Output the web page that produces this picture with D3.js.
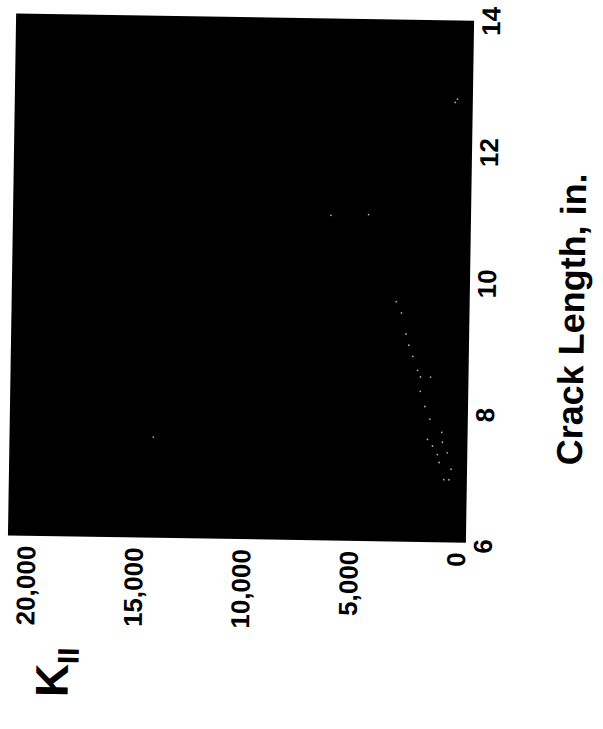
<!DOCTYPE html>
<html>
<head>
<meta charset="utf-8">
<script src="https://cdn.jsdelivr.net/npm/d3@7"></script>
<style>
  body { margin: 0; background: #fff; }
  svg { display: block; font-family: "Liberation Sans", Arial, Helvetica, sans-serif; font-weight: bold; }
</style>
</head>
<body>
<svg id="chart" width="603" height="729"></svg>
<script>
// crack length (in.) and K_II values
const crackLength = [9.70, 9.53, 9.21, 9.04, 8.87, 8.66, 8.56, 8.56, 8.34, 8.11, 7.92, 7.61,
  7.51, 7.38, 7.72, 7.57, 7.41, 7.26, 7.00, 7.00, 7.16, 11.0, 11.02, 7.58, 12.8, 12.75];
const kII = [2950, 2700, 2470, 2330, 2140, 1910, 1770, 1300, 1770, 1540, 1300, 1400,
  1160, 930, 740, 700, 470, 840, 610, 370, 280, 6050, 4300, 14150, 250, 350];

const crackTicks = [6, 8, 10, 12, 14];
const kTicks = [0, 5000, 10000, 15000, 20000];

const svg = d3.select('#chart');

// the scanned page sits slightly turned, so the whole chart gets a small rotation
const g = svg.append('g').attr('transform', 'rotate(0.9,300,280)');

// plot is drawn sideways: crack length runs bottom -> top on the right,
// K_II runs right -> left along the bottom
const plot = { left: 12, right: 470, top: 18, bottom: 540 };

var y = d3.scaleLinear().domain([6, 14]).range([543, 18]);
var x = d3.scaleLinear().domain([0, 20000]).range([460, 30]);

// black plot field
g.append('rect')
  .attr('x', plot.left)
  .attr('y', plot.top)
  .attr('width', plot.right - plot.left)
  .attr('height', plot.bottom - plot.top)
  .attr('fill', '#000');

// data points
g.append('g')
  .selectAll('circle')
  .data(crackLength.map((c, i) => ({ c: c, k: kII[i] })))
  .enter()
  .append('circle')
  .attr('cx', d => x(d.k))
  .attr('cy', d => y(d.c))
  .attr('r', 0.9)
  .attr('fill', '#aaa');

// crack length axis (right side)
var ay = g.append('g')
  .attr('transform', 'translate(' + plot.right + ',0)')
  .call(d3.axisRight(y).tickValues(crackTicks).tickSize(0));
ay.select('.domain').remove();
ay.selectAll('text')
  .attr('transform', 'rotate(-90)')
  .attr('x', 0)
  .attr('y', 17)
  .attr('dy', '0.35em')
  .attr('text-anchor', 'middle')
  .attr('fill', '#000')
  .style('font-size', '26px')
  .style('font-weight', 'bold');

// K_II axis (bottom)
var ax = g.append('g')
  .attr('transform', 'translate(0,' + plot.bottom + ')')
  .call(d3.axisBottom(x).tickValues(kTicks).tickSize(0).tickFormat(d3.format(',')));
ax.select('.domain').remove();
ax.selectAll('text')
  .attr('transform', 'rotate(-90)')
  .attr('x', -10)
  .attr('y', 0)
  .attr('dy', '0.35em')
  .attr('text-anchor', 'end')
  .attr('fill', '#000')
  .style('font-size', '26px')
  .style('font-weight', 'bold');

// axis titles
g.append('text')
  .attr('transform', 'translate(572,315) rotate(-90)')
  .attr('text-anchor', 'middle')
  .attr('dy', '0.35em')
  .style('font-size', '36px')
  .text('Crack Length, in.');

var kl = g.append('text')
  .attr('transform', 'translate(58,676) rotate(-90)')
  .attr('text-anchor', 'middle')
  .attr('dy', '0.35em')
  .style('font-size', '46px');
kl.append('tspan').text('K');
kl.append('tspan').attr('dy', '0.35em').style('font-size', '30px').text('II');
</script>
</body>
</html>
